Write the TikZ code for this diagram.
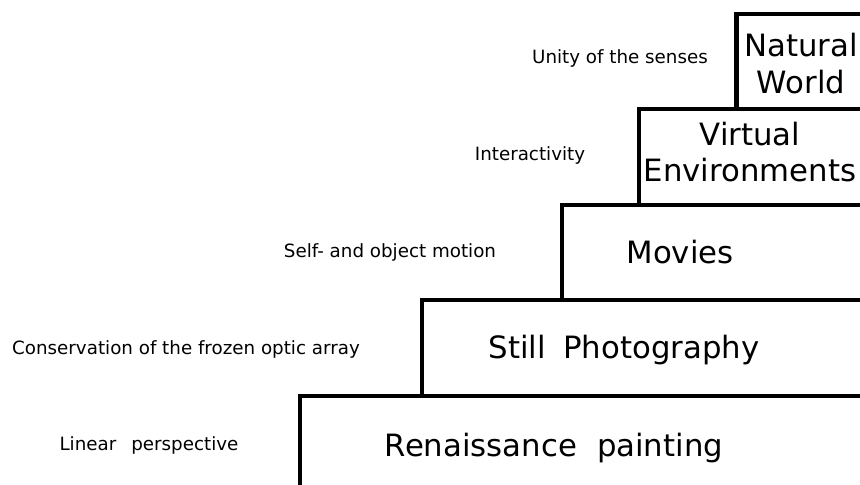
\documentclass[tikz,border=0pt]{standalone}
\usepackage{fontspec}
\setmainfont{DejaVu Sans}
\usetikzlibrary{positioning}

\begin{document}
\begin{tikzpicture}[
 stage/.style={font=\fontsize{17.5}{21}\selectfont,anchor=base,align=center,inner sep=0pt},
 cue/.style={font=\fontsize{10.4}{12}\selectfont,anchor=base,inner sep=0pt},
 stairline/.style={line width=2.3pt}]
\useasboundingbox (0,0) rectangle (17.2,9.7);
% the steps, from the bottom up
\draw[stairline] (6.00,-0.2) |- (17.4,1.78);
\draw[stairline] (8.44,1.78) |- (17.4,3.70);
\draw[stairline] (11.24,3.70) |- (17.4,5.60);
\draw[stairline] (12.78,5.60) |- (17.4,7.52);
\draw[stairline] (14.73,7.52) |- (17.4,9.42);
% media on the steps
\node[stage] (renaissance) at (11.08,0.56) {Renaissance\hspace{0.4cm}painting};
\node[stage] (still) at (12.48,2.52) {Still\hspace{0.35cm}Photography};
\node[stage] (movies) at (13.6,4.42) {Movies};
\node[stage,anchor=center] (virtual) at (15.0,6.66) {Virtual\\Environments};
\node[stage,anchor=center] (natural) at (16.02,8.43) {Natural\\World};
% what each step adds
\node[cue] (linear) at (2.98,0.68) {Linear\hspace{0.3cm}perspective};
\node[cue] (frozen) at (3.72,2.6) {Conservation of the frozen optic array};
\node[cue] (motion) at (7.8,4.54) {Self- and object motion};
\node[cue] (interact) at (10.6,6.48) {Interactivity};
\node[cue] (unity) at (12.4,8.42) {Unity of the senses};
\end{tikzpicture}
\end{document}
